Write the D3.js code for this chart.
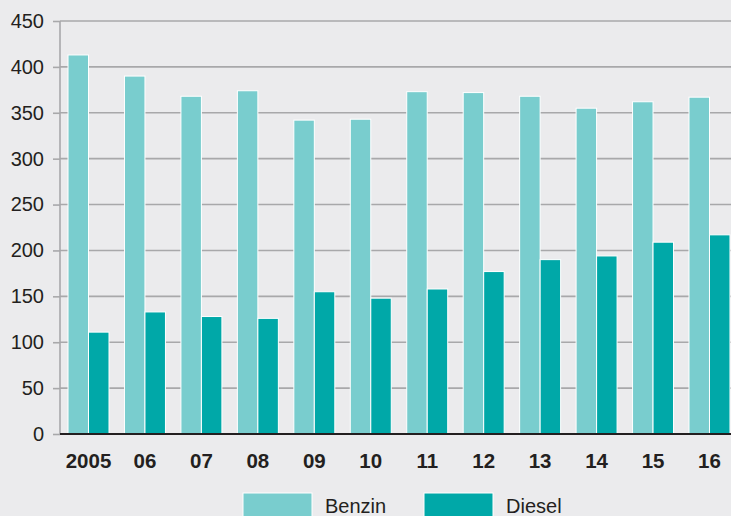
<!DOCTYPE html>
<html>
<head>
<meta charset="utf-8">
<script src="https://cdn.jsdelivr.net/npm/d3@7"></script>
<style>
  html, body { margin: 0; padding: 0; background: #ebebed; }
  svg { display: block; font-family: "Liberation Sans", Arial, sans-serif; }
</style>
</head>
<body>
<svg id="chart"></svg>
<script>
// data
var years = ["2005", "06", "07", "08", "09", "10", "11", "12", "13", "14", "15", "16"]
var benzin = [413, 390, 368, 374, 342, 343, 373, 372, 368, 355, 362, 367]
var diesel = [111, 133, 128, 126, 155, 148, 158, 177, 190, 194, 209, 217]
var yTicks = [0, 50, 100, 150, 200, 250, 300, 350, 400, 450]
var seriesNames = ["Benzin", "Diesel"]
var seriesColors = ["#79cdce", "#00a8a8"]

var W = 731, H = 516
var svg = d3.select("#chart").attr("width", W).attr("height", H)

var plotLeft = 60, plotTop = 21, plotBottom = 434

var y = d3.scaleLinear().domain([0, 450]).range([plotBottom, plotTop])

var x = d3.scaleBand()
  .domain(years)
  .range([plotLeft, 738])
  .paddingInner(0.274)
  .paddingOuter(0.142)

var x1 = d3.scaleBand()
  .domain(seriesNames)
  .range([0, x.bandwidth()])
  .padding(0)

var color = d3.scaleOrdinal().domain(seriesNames).range(seriesColors)

// gridlines + y axis
var yAxis = svg.append("g")
  .attr("transform", "translate(" + plotLeft + ",0)")
  .call(d3.axisLeft(y).tickValues(yTicks).tickSize(7).tickPadding(9))
yAxis.select(".domain").remove()
yAxis.selectAll(".tick line").attr("stroke", "#a8a8aa").attr("stroke-width", 1.6)
yAxis.selectAll(".tick text")
  .attr("fill", "#231f20")
  .style("font-size", "20px")

svg.append("g")
  .selectAll("line")
  .data(yTicks.filter(function(d) { return d > 0 }))
  .enter()
  .append("line")
  .attr("x1", plotLeft).attr("x2", W)
  .attr("y1", function(d) { return y(d) }).attr("y2", function(d) { return y(d) })
  .attr("stroke", "#a8a8aa")
  .attr("stroke-width", 1.6)

svg.append("line")
  .attr("x1", plotLeft).attr("x2", plotLeft)
  .attr("y1", plotTop).attr("y2", plotBottom)
  .attr("stroke", "#a8a8aa")
  .attr("stroke-width", 1.6)

// bars
var rows = years.map(function(yr, i) {
  return { year: yr, values: [
    { name: "Benzin", value: benzin[i] },
    { name: "Diesel", value: diesel[i] }
  ] }
})

svg.append("g")
  .selectAll("g")
  .data(rows)
  .enter()
  .append("g")
  .attr("transform", function(d) { return "translate(" + x(d.year) + ",0)" })
  .selectAll("rect")
  .data(function(d) { return d.values })
  .enter()
  .append("rect")
  .attr("x", function(d) { return x1(d.name) })
  .attr("y", function(d) { return y(d.value) })
  .attr("width", x1.bandwidth())
  .attr("height", function(d) { return plotBottom - y(d.value) })
  .attr("fill", function(d) { return color(d.name) })
  .attr("stroke", "#ffffff")
  .attr("stroke-width", 1)

// baseline
svg.append("line")
  .attr("x1", plotLeft).attr("x2", W)
  .attr("y1", plotBottom).attr("y2", plotBottom)
  .attr("stroke", "#231f20")
  .attr("stroke-width", 2.2)

// x labels
svg.append("g")
  .selectAll("text")
  .data(years)
  .enter()
  .append("text")
  .attr("x", function(d) { return x(d) + x.bandwidth() / 2 })
  .attr("y", 468)
  .attr("text-anchor", "middle")
  .attr("fill", "#231f20")
  .style("font-size", "20.5px")
  .style("font-weight", "bold")
  .text(function(d) { return d })

// legend
var legendX = [243, 424]
var legend = svg.append("g")
  .selectAll("g")
  .data(seriesNames)
  .enter()
  .append("g")
  .attr("transform", function(d, i) { return "translate(" + legendX[i] + ",493)" })
legend.append("rect")
  .attr("width", 69).attr("height", 30)
  .attr("fill", function(d) { return color(d) })
  .attr("stroke", "#ffffff")
  .attr("stroke-width", 1)
legend.append("text")
  .attr("x", 82).attr("y", 20)
  .attr("fill", "#231f20")
  .style("font-size", "20px")
  .text(function(d) { return d })
</script>
</body>
</html>
